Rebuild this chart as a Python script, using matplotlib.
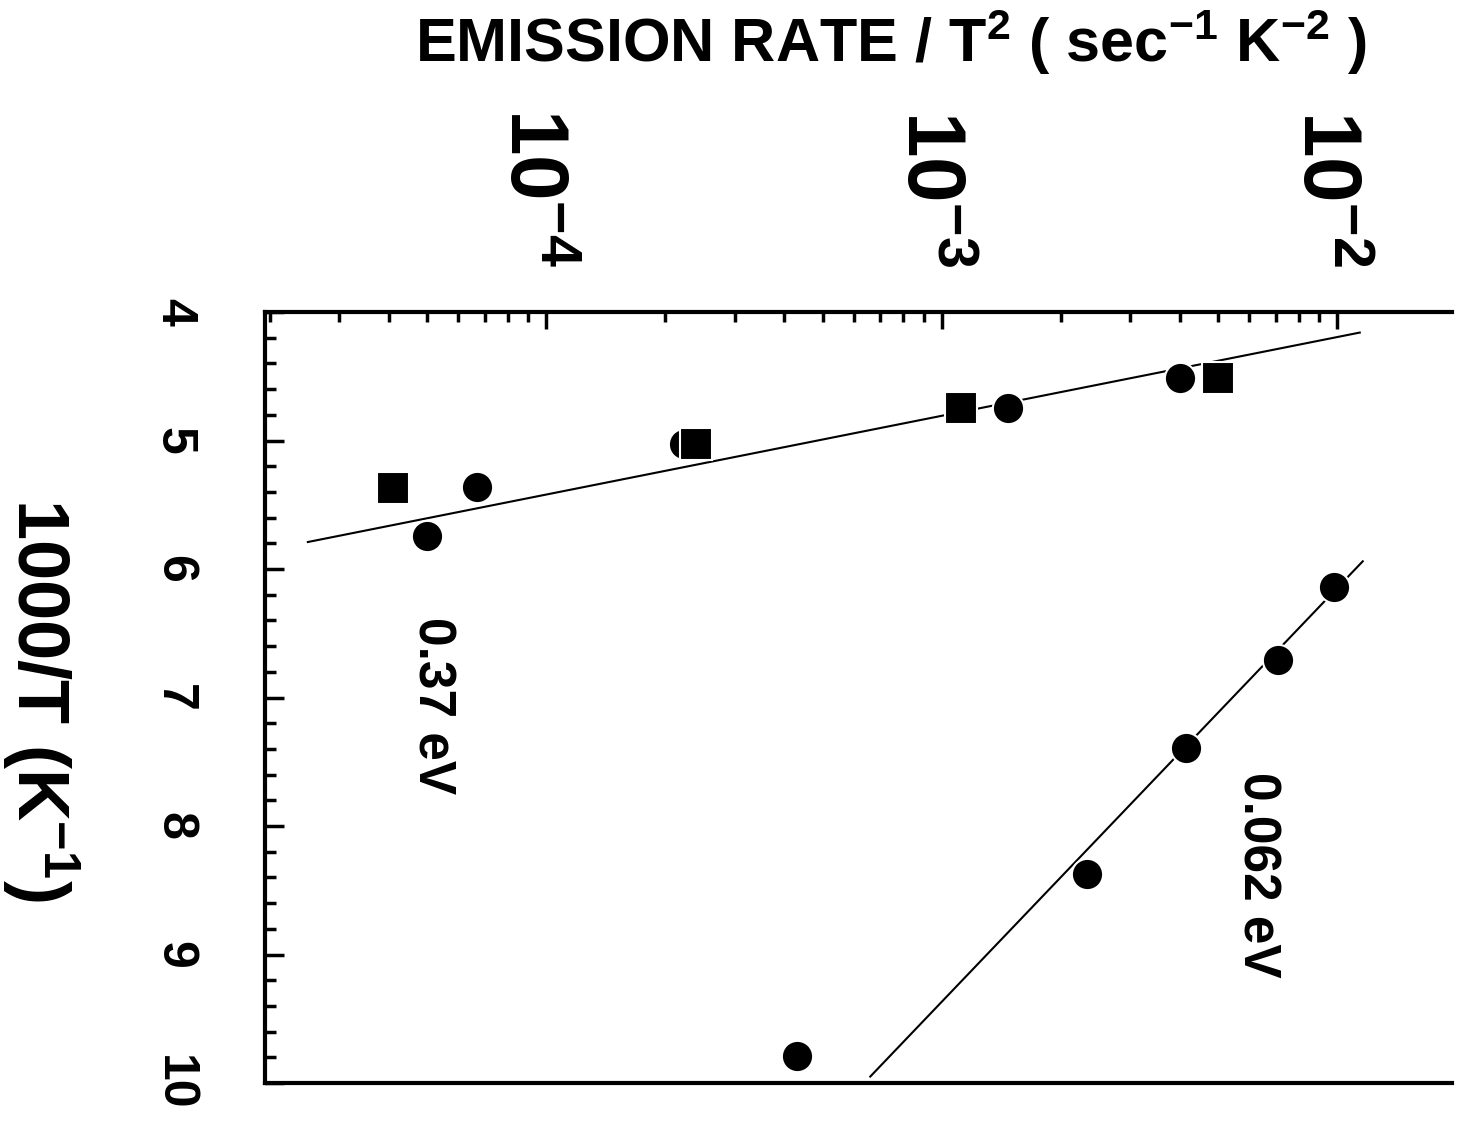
import matplotlib
matplotlib.use("Agg")
import matplotlib.pyplot as plt
import matplotlib.transforms as mtransforms
from matplotlib.ticker import LogLocator, FixedLocator, FixedFormatter, NullFormatter, MultipleLocator

plt.rcParams['font.family'] = ['Liberation Sans', 'DejaVu Sans']
plt.rcParams['font.weight'] = 'bold'
plt.rcParams['mathtext.default'] = 'regular'

# ---- data (1000/T in K^-1, emission rate / T^2 in s^-1 K^-2) ----
t_037_circ = [4.51, 4.75, 5.03, 5.36, 5.74]
e_037_circ = [4.0e-3, 1.47e-3, 2.23e-4, 6.7e-5, 5.0e-5]

t_037_sq = [4.51, 4.75, 5.03, 5.37]
e_037_sq = [5.0e-3, 1.12e-3, 2.4e-4, 4.1e-5]

t_062 = [6.14, 6.71, 7.39, 8.37, 9.79]
e_062 = [9.8e-3, 7.1e-3, 4.15e-3, 2.33e-3, 4.3e-4]

fit_037_t = [4.16, 5.79]
fit_037_e = [1.14e-2, 2.5e-5]
fit_062_t = [5.94, 9.95]
fit_062_e = [1.16e-2, 6.6e-4]

x_ticks = [1e-4, 1e-3, 1e-2]
x_ticklabels = [r'$10^{-4}$', r'$10^{-3}$', r'$10^{-2}$']
y_ticks = [4, 5, 6, 7, 8, 9, 10]
y_ticklabels = ['4', '5', '6', '7', '8', '9', '10']

W, H = 1474, 1128
fig = plt.figure(figsize=(W / 100, H / 100), dpi=100)
ax = fig.add_axes([265 / W, 1 - 1083 / H, (1452 - 265) / W, (1083 - 312) / H])

ax.set_xscale('log')
ax.set_xlim(1.948e-5, 1.95e-2)
ax.set_ylim(10, 4)

# fit lines
ax.plot(fit_037_e, fit_037_t, color='black', lw=1.5, zorder=2)
ax.plot(fit_062_e, fit_062_t, color='black', lw=1.5, zorder=2)

# data points
ax.plot(e_037_circ, t_037_circ, 'o', color='black', ms=22.5, mec='white', mew=1.5, ls='none', zorder=3)
ax.plot(e_037_sq, t_037_sq, 's', color='black', ms=23, mec='white', mew=1.5, ls='none', zorder=3)
ax.plot(e_062, t_062, 'o', color='black', ms=22.5, mec='white', mew=1.5, ls='none', zorder=3)

# annotations
ax.text(5.15e-5, 7.06, '0.37 eV', rotation=-90, ha='center', va='center',
        fontsize=37, fontweight='bold')
ax.text(6.28e-3, 8.38, '0.062 eV', rotation=-90, ha='center', va='center',
        fontsize=37, fontweight='bold')

# spines
for s in ['top', 'left', 'bottom']:
    ax.spines[s].set_linewidth(3)
ax.spines['right'].set_visible(False)

# x axis (log emission rate) on top
ax.xaxis.tick_top()
ax.xaxis.set_major_locator(FixedLocator(x_ticks))
ax.xaxis.set_major_formatter(FixedFormatter(x_ticklabels))
ax.xaxis.set_minor_locator(LogLocator(base=10, subs=[2, 3, 4, 5, 6, 7, 8, 9], numticks=20))
ax.xaxis.set_minor_formatter(NullFormatter())
ax.tick_params(axis='x', which='major', direction='in', length=12, width=2.5,
               top=True, bottom=False, labeltop=True, labelbottom=False,
               labelsize=59, pad=32, labelrotation=-90)
ax.tick_params(axis='x', which='minor', direction='in', length=7, width=2.5,
               top=True, bottom=False)
shift = mtransforms.ScaledTranslation(-14 / 100, 0, fig.dpi_scale_trans)
for tick in ax.xaxis.get_major_ticks():
    lbl = tick.label2
    lbl.set_fontweight('bold')
    lbl.set_va('bottom')
    lbl.set_ha('center')
    lbl.set_transform(lbl.get_transform() + shift)

# y axis (1000/T) on left
ax.yaxis.set_major_locator(FixedLocator(y_ticks))
ax.yaxis.set_major_formatter(FixedFormatter(y_ticklabels))
ax.yaxis.set_minor_locator(MultipleLocator(0.2))
ax.tick_params(axis='y', which='major', direction='in', length=14, width=2.5,
               left=True, right=False, labelsize=36, pad=49, labelrotation=-90)
ax.tick_params(axis='y', which='minor', direction='in', length=8, width=2.5,
               left=True, right=False)
for lbl in ax.get_yticklabels():
    lbl.set_fontweight('bold')
    lbl.set_va('center')
    lbl.set_ha('right')

# axis titles
fig.text(891 / W, 1 - 62 / H, r'EMISSION RATE / T$^{2}$ ( sec$^{-1}$ K$^{-2}$ )',
         ha='center', va='baseline', fontsize=44, fontweight='bold')
fig.text(40 / W, 1 - 700 / H, r'1000/T (K$^{-1}$)', rotation=-90,
         ha='center', va='center', fontsize=52, fontweight='bold')

fig.savefig('out.png', dpi=100, facecolor='white')
